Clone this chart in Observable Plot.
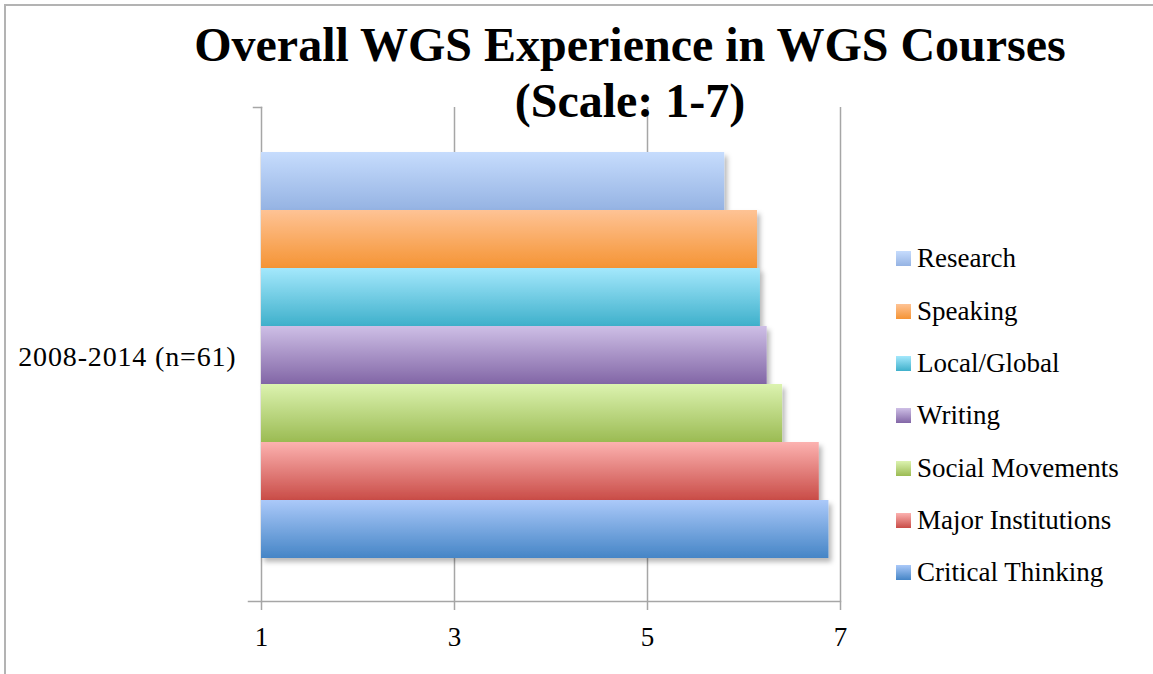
<!DOCTYPE html>
<html>
<head>
<meta charset="utf-8">
<script src="https://cdn.jsdelivr.net/npm/d3@7"></script>
<script src="https://cdn.jsdelivr.net/npm/@observablehq/plot@0.6"></script>
<style>
  html, body { margin: 0; padding: 0; background: #fff; }
  #wrap { position: relative; width: 1153px; height: 674px; overflow: hidden; font-family: "Liberation Serif", serif; }
  #border { position: absolute; left: 4px; top: 4px; width: 1200px; height: 700px; border-left: 2px solid #b3b3b3; border-top: 2px solid #b3b3b3; }
  #title { position: absolute; left: 0; width: 1260px; top: 17px; text-align: center; font-weight: bold; font-size: 48px; line-height: 56px; color: #000; }
  #chart { position: absolute; left: 0; top: 0; }
  #legend { position: absolute; left: 896px; top: 232.7px; }
  .row { height: 52.33px; display: flex; align-items: center; }
  .sw { width: 15px; height: 15px; margin-right: 6px; }
  .lt { font-size: 27px; line-height: 1; color: #000; white-space: nowrap; }
</style>
</head>
<body>
<div id="wrap">
  <div id="border"></div>
  <div id="chart"></div>
  <div id="title"></div>
  <div id="legend"></div>
</div>
<script>
const titleLines = ["Overall WGS Experience in WGS Courses", "(Scale: 1-7)"];
const groups = ["2008-2014 (n=61)"];
const series = ["Research", "Speaking", "Local/Global", "Writing", "Social Movements", "Major Institutions", "Critical Thinking"];
const values = [5.80, 6.14, 6.17, 6.24, 6.40, 6.78, 6.88];
const xTicks = [1, 3, 5, 7];
const colorTop = ["#c6dcfd", "#fec395", "#a4e8fc", "#cebfe6", "#dcf3b0", "#fcb2b0", "#abc9f9"];
const colorBottom = ["#95b3e3", "#f59434", "#3fb0cb", "#8266a6", "#9bbb53", "#c94c47", "#4585c6"];

const data = series.map((s, i) => ({group: groups[0], series: s, value: values[i]}));
const urls = series.map((s, i) => `url(#grad${i})`);
const grid = "#a6a6a6";

const plot = Plot.plot({
  width: 1153,
  height: 674,
  marginLeft: 261,
  marginRight: 313,
  marginTop: 107,
  marginBottom: 73,
  style: {fontFamily: "'Liberation Serif', serif", fontSize: "27px", background: "transparent", color: "#000"},
  x: {domain: [1, 7], label: null},
  y: {domain: series, range: [150, 559], padding: 0, axis: null},
  color: {type: "ordinal", domain: series, range: urls},
  marks: [
    Plot.gridX(xTicks.slice(1), {stroke: grid, strokeOpacity: 1, strokeWidth: 1.5}),
    Plot.frame({anchor: "left", stroke: grid, strokeWidth: 1.5}),
    Plot.frame({anchor: "bottom", stroke: grid, strokeWidth: 1.5, insetLeft: -13}),
    Plot.frame({anchor: "top", stroke: grid, strokeWidth: 1.5, insetLeft: -8, insetRight: 579}),
    Plot.axisX(xTicks, {label: null, tickSize: 9, tickPadding: 16, stroke: grid, strokeWidth: 1.5, fill: "#000", tickFormat: d => String(d), fontSize: 27}),
    Plot.barX(data, {x1: 1, x2: "value", y: "series", fill: "series"}),
    Plot.text(groups, {frameAnchor: "left", dx: -25, dy: 3, textAnchor: "end", text: d => d, fontSize: 28, fill: "#000", letterSpacing: "0.04em"})
  ]
});

const svg = d3.select(plot);
const defs = svg.insert("defs", ":first-child");
series.forEach((s, i) => {
  const g = defs.append("linearGradient").attr("id", `grad${i}`).attr("x1", 0).attr("y1", 0).attr("x2", 0).attr("y2", 1);
  g.append("stop").attr("offset", "0%").attr("stop-color", colorTop[i]);
  g.append("stop").attr("offset", "100%").attr("stop-color", colorBottom[i]);
});
const f = defs.append("filter").attr("id", "shadow").attr("x", "-10%").attr("y", "-10%").attr("width", "130%").attr("height", "140%");
f.append("feDropShadow").attr("dx", 3).attr("dy", 4).attr("stdDeviation", 2.5).attr("flood-color", "#000").attr("flood-opacity", 0.28);
svg.selectAll("g[aria-label='bar'] rect").attr("filter", "url(#shadow)");
svg.selectAll("g[aria-label='text'] text").style("letter-spacing", "0.03em");

document.getElementById("chart").appendChild(plot);

const legend = d3.select("#legend");
series.forEach((s, i) => {
  const row = legend.append("div").attr("class", "row");
  row.append("div").attr("class", "sw").style("background", `linear-gradient(${colorTop[i]}, ${colorBottom[i]})`);
  row.append("div").attr("class", "lt").text(s);
});
document.getElementById("title").innerHTML = titleLines.join("<br>");
</script>
</body>
</html>
